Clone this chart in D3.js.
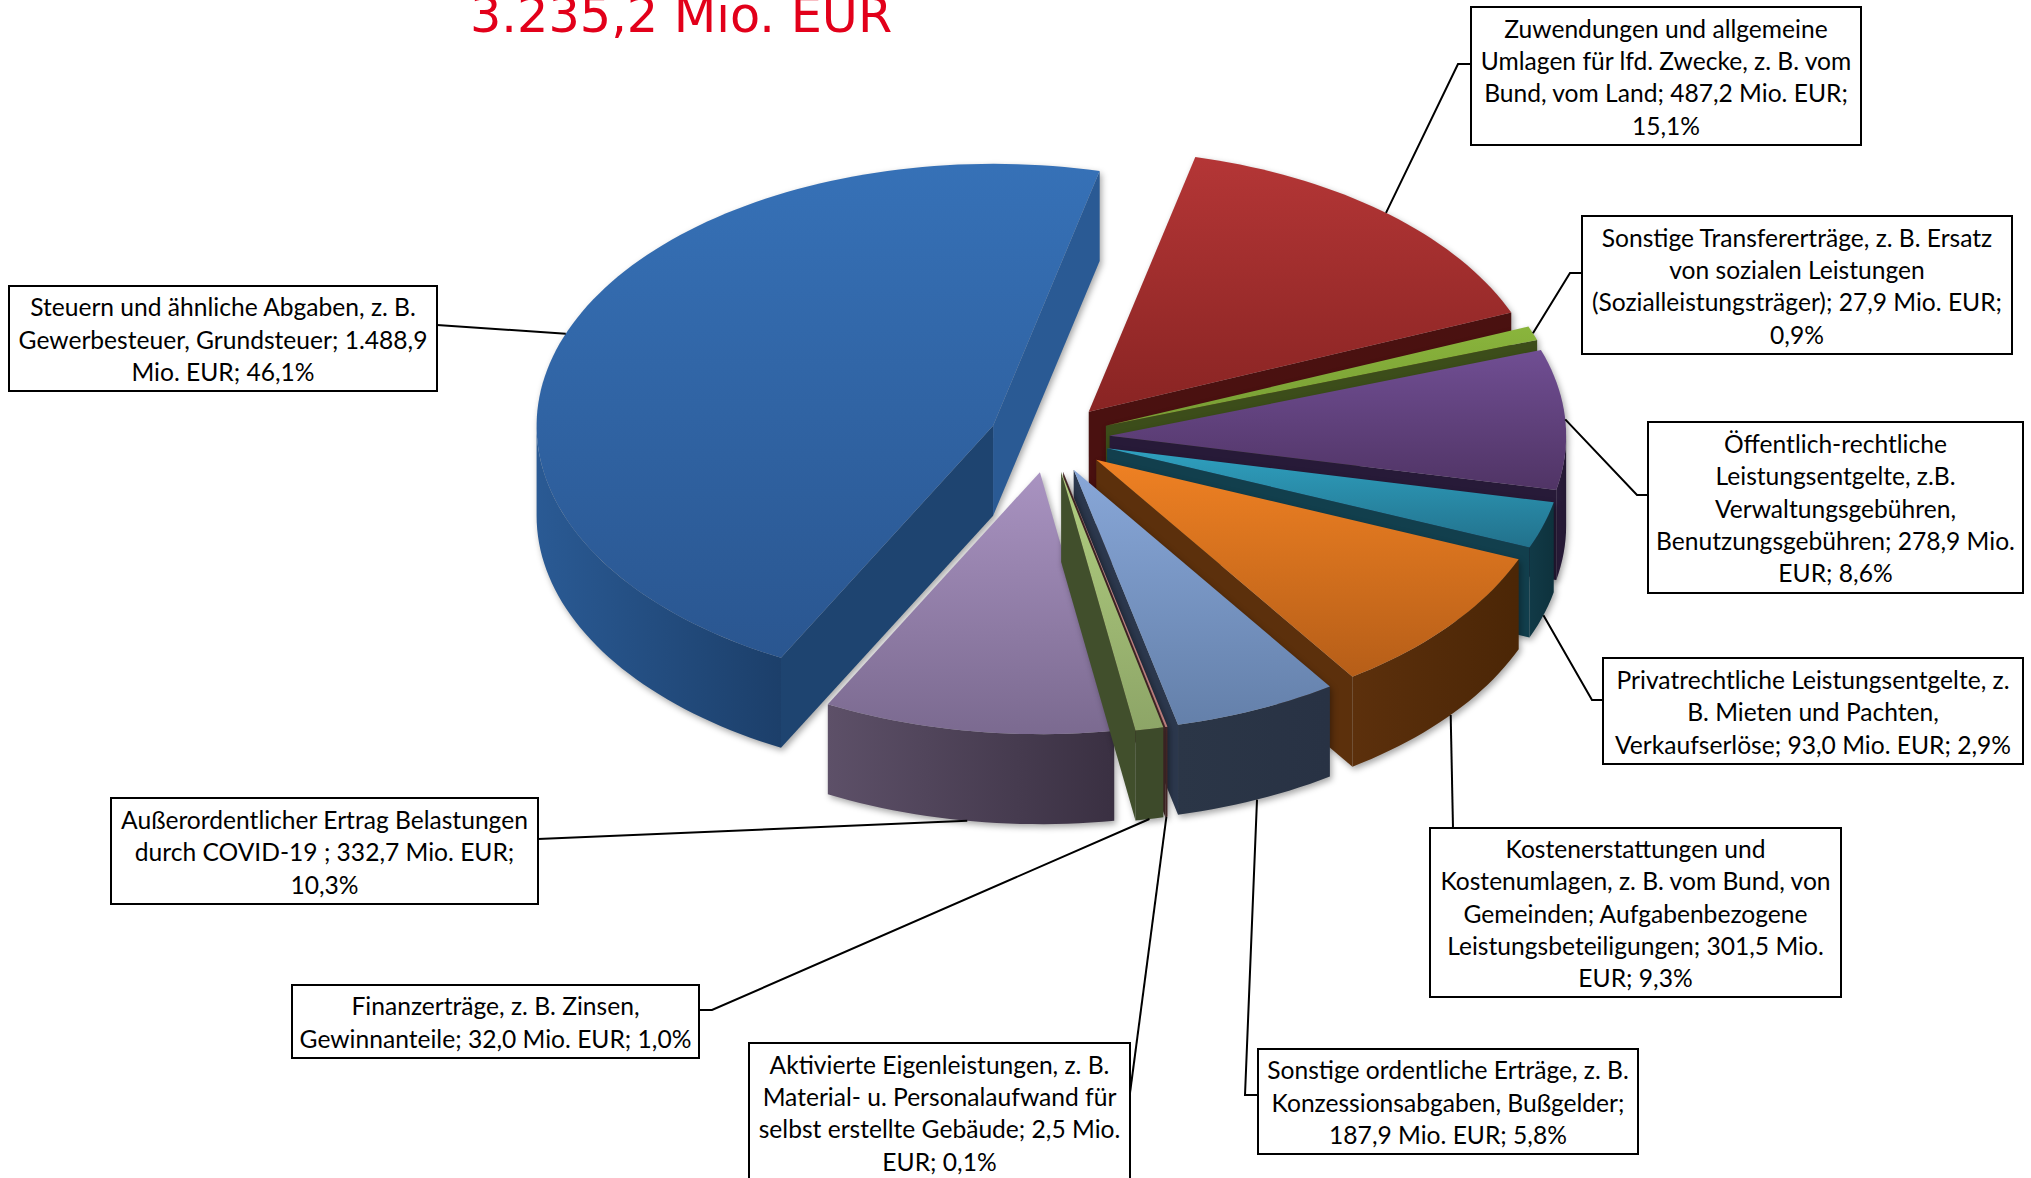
<!DOCTYPE html>
<html>
<head>
<meta charset="utf-8">
<script src="https://cdn.jsdelivr.net/npm/d3@7"></script>
<style>
    html, body { margin: 0; padding: 0; background: #ffffff; overflow: hidden; }
    text { font-family: Lato, "Open Sans", sans-serif; }
</style>
</head>
<body>
<div id="chart"></div>
<script>
'use strict';

// data, in the order the pie runs clockwise
const categories = [
    'Zuwendungen', 'Sonstige Transfererträge', 'Öffentlich-rechtliche Leistungsentgelte',
    'Privatrechtliche Leistungsentgelte', 'Kostenerstattungen', 'Sonstige ordentliche Erträge',
    'Aktivierte Eigenleistungen', 'Finanzerträge', 'Außerordentlicher Ertrag', 'Steuern'
];
const values = [487.2, 27.9, 278.9, 93.0, 301.5, 187.9, 2.5, 32.0, 332.7, 1488.9];
const titleText = '3.235,2 Mio. EUR';
const labelLines = [
    ['Zuwendungen und allgemeine', 'Umlagen für lfd. Zwecke, z. B. vom', 'Bund, vom Land; 487,2 Mio. EUR;', '15,1%'],
    ['Sonstige Transfererträge, z. B. Ersatz', 'von sozialen Leistungen', '(Sozialleistungsträger); 27,9 Mio. EUR;', '0,9%'],
    ['Öffentlich-rechtliche', 'Leistungsentgelte, z.B.', 'Verwaltungsgebühren,', 'Benutzungsgebühren; 278,9 Mio.', 'EUR; 8,6%'],
    ['Privatrechtliche Leistungsentgelte, z.', 'B. Mieten und Pachten,', 'Verkaufserlöse; 93,0 Mio. EUR; 2,9%'],
    ['Kostenerstattungen und', 'Kostenumlagen, z. B. vom Bund, von', 'Gemeinden; Aufgabenbezogene', 'Leistungsbeteiligungen; 301,5 Mio.', 'EUR; 9,3%'],
    ['Sonstige ordentliche Erträge, z. B.', 'Konzessionsabgaben, Bußgelder;', '187,9 Mio. EUR; 5,8%'],
    ['Aktivierte Eigenleistungen, z. B.', 'Material- u. Personalaufwand für', 'selbst erstellte Gebäude; 2,5 Mio.', 'EUR; 0,1%'],
    ['Finanzerträge, z. B. Zinsen,', 'Gewinnanteile; 32,0 Mio. EUR; 1,0%'],
    ['Außerordentlicher Ertrag Belastungen', 'durch COVID-19 ; 332,7 Mio. EUR;', '10,3%'],
    ['Steuern und ähnliche Abgaben, z. B.', 'Gewerbesteuer, Grundsteuer; 1.488,9', 'Mio. EUR; 46,1%']
];

// layout
const width = 2031, height = 1178;
const center = {x: 1049.5, y: 438};
const radiusX = 456.5, radiusY = 262, depth = 90, explode = 0.132;
const startDeg = 13.5;
const lineGap = 32.4;
const drawOrder = [9, 8, 0, 1, 2, 3, 4, 5, 6, 7];

// box: x0, y0, x1, y1; elbow: side of the box and where the leader leaves it
const boxes = [
    {x0: 1471, y0: 7, x1: 1861, y1: 145, from: [1471, 64], elbow: [1458, 64]},
    {x0: 1582, y0: 216, x1: 2012, y1: 354, from: [1582, 273], elbow: [1570, 273]},
    {x0: 1648, y0: 422, x1: 2023, y1: 593, from: [1648, 495], elbow: [1637, 495]},
    {x0: 1603, y0: 658, x1: 2023, y1: 764, from: [1603, 700], elbow: [1592, 700]},
    {x0: 1430, y0: 828, x1: 1841, y1: 997, from: [1453, 828], elbow: null},
    {x0: 1258, y0: 1049, x1: 1638, y1: 1154, from: [1258, 1095], elbow: [1245, 1095]},
    {x0: 749, y0: 1043, x1: 1130, y1: 1181, from: [1130, 1093], elbow: null},
    {x0: 292, y0: 985, x1: 699, y1: 1058, from: [699, 1010], elbow: [712, 1010]},
    {x0: 111, y0: 798, x1: 538, y1: 904, from: [538, 839], elbow: null},
    {x0: 9, y0: 286, x1: 437, y1: 391, from: [437, 325], elbow: null}
];

// colours per slice: top gradient, radial wall, curved wall gradient
const topColors = [
    ['#b43636', '#892423'], ['#8ab53c', '#779c34'], ['#704e93', '#503465'], ['#2fa1c0', '#22718c'],
    ['#ef8123', '#b65e18'], ['#88a7d8', '#6480aa'], ['#dd9a98', '#c98684'], ['#b1ce80', '#8da567'],
    ['#a993c1', '#7b6a90'], ['#3671b7', '#2a5690']
];
const endWallColors = ['#4a1110', '#3c4d1a', '#271a38', '#123f4d', '#5c300c', '#2c384d', '#4a2a2a', '#414f2c', '#4a3f55', '#2a5a94'];
const startWallColors = ['#4a1110', '#3c4d1a', '#271a38', '#123f4d', '#5c300c', '#2c384d', '#4a2a2a', '#414f2c', '#4a3f55', '#1e4470'];
const arcWallColors = [
    ['#5a1a18', '#4a1110'], ['#3c4d1a', '#3c4d1a'], ['#2a1c3c', '#241833'], ['#113a47', '#0e323d'],
    ['#5c300c', '#4b2606'], ['#2b3647', '#283244'], ['#4a2a2a', '#4a2a2a'], ['#3d4a2a', '#3d4a2a'],
    ['#5d5068', '#3a3042'], ['#2a5a94', '#1c3f6a']
];

const toRad = Math.PI / 180;
const halfPi = Math.PI / 2;

const pie = d3.pie().sort(null).startAngle(startDeg * toRad).endAngle((startDeg + 360) * toRad);
const arcs = pie(values);

// unit circle to screen, angles run clockwise from 12 o'clock
const xScale = d3.scaleLinear().domain([-1, 1]).range([center.x - radiusX, center.x + radiusX]);
const yScale = d3.scaleLinear().domain([-1, 1]).range([center.y - radiusY, center.y + radiusY]);

function apexOf(arc) {
    let mid = (arc.startAngle + arc.endAngle) / 2;
    return [explode * Math.sin(mid), -explode * Math.cos(mid)];
}

function project(arc, r, angle, drop) {
    let apex = apexOf(arc);
    return [
        xScale(apex[0] + r * Math.sin(angle)),
        yScale(apex[1] - r * Math.cos(angle)) + (drop || 0)
    ];
}

function arcPoints(arc, a0, a1, drop) {
    let steps = Math.max(2, Math.ceil((a1 - a0) / (toRad * 1.5)));
    return d3.range(steps + 1).map(function (i) {
        return project(arc, 1, a0 + (a1 - a0) * i / steps, drop);
    });
}

const line = d3.line();
const closed = function (pts) { return line(pts) + 'Z'; };

const svg = d3.select('#chart').append('svg')
    .attr('width', width)
    .attr('height', height)
    .style('display', 'block');

const defs = svg.append('defs');

arcs.forEach(function (arc, i) {
    let top = defs.append('linearGradient').attr('id', 'top-' + i)
        .attr('x1', 0).attr('y1', 0).attr('x2', 0).attr('y2', 1);
    top.append('stop').attr('offset', 0).attr('stop-color', topColors[i][0]);
    top.append('stop').attr('offset', 1).attr('stop-color', topColors[i][1]);

    let wall = defs.append('linearGradient').attr('id', 'wall-' + i)
        .attr('x1', 0).attr('y1', 0).attr('x2', 1).attr('y2', 0);
    wall.append('stop').attr('offset', 0).attr('stop-color', arcWallColors[i][0]);
    wall.append('stop').attr('offset', 1).attr('stop-color', arcWallColors[i][1]);
});

const pieLayer = svg.append('g');

drawOrder.forEach(function (i) {
    let arc = arcs[i];
    let slice = pieLayer.append('g')
        .attr('class', 'slice')
        .attr('data-name', categories[i])
        .style('filter', 'drop-shadow(2px 3px 3px rgba(0,0,0,0.35))');

    let a0 = arc.startAngle, a1 = arc.endAngle;
    let apexTop = project(arc, 0, 0, 0), apexBottom = project(arc, 0, 0, depth);

    // a radial wall shows only if its outward normal points at the viewer
    let normalStart = Math.cos(a0 - halfPi), normalEnd = Math.cos(a1 + halfPi);
    if (normalStart < 0) {
        slice.append('path')
            .attr('d', closed([apexTop, project(arc, 1, a0, 0), project(arc, 1, a0, depth), apexBottom]))
            .attr('fill', startWallColors[i]);
    }
    if (normalEnd < 0) {
        slice.append('path')
            .attr('d', closed([apexTop, project(arc, 1, a1, 0), project(arc, 1, a1, depth), apexBottom]))
            .attr('fill', endWallColors[i]);
    }

    // curved wall, front half only
    let w0 = Math.max(a0, halfPi), w1 = Math.min(a1, 3 * halfPi);
    if (w1 > w0) {
        let upper = arcPoints(arc, w0, w1, 0);
        let lower = arcPoints(arc, w0, w1, depth).reverse();
        slice.append('path')
            .attr('d', closed(upper.concat(lower)))
            .attr('fill', 'url(#wall-' + i + ')');
    }

    // top face
    slice.append('path')
        .attr('d', closed([apexTop].concat(arcPoints(arc, a0, a1, 0))))
        .attr('fill', 'url(#top-' + i + ')');
});

// leaders end on the rim at the middle of the slice
const leaderLayer = svg.append('g');
boxes.forEach(function (box, i) {
    let arc = arcs[i];
    let mid = (arc.startAngle + arc.endAngle) / 2;
    let facing = Math.cos(mid) < 0;
    let pts = [box.from];
    if (box.elbow) {
        pts.push(box.elbow);
    }
    pts.push(project(arc, 1, mid, facing ? depth : 0));
    leaderLayer.append('path')
        .attr('d', line(pts))
        .attr('fill', 'none')
        .attr('stroke', '#000000')
        .attr('stroke-width', 2);
});

const boxLayer = svg.selectAll('.label').data(boxes).enter().append('g').attr('class', 'label');

boxLayer.append('rect')
    .attr('x', function (b) { return b.x0; })
    .attr('y', function (b) { return b.y0; })
    .attr('width', function (b) { return b.x1 - b.x0; })
    .attr('height', function (b) { return b.y1 - b.y0; })
    .attr('fill', '#ffffff')
    .attr('stroke', '#000000')
    .attr('stroke-width', 2);

boxLayer.each(function (b, i) {
    let lines = labelLines[i];
    let middle = (b.y0 + b.y1) / 2;
    let first = middle - (lines.length - 1) * lineGap / 2;
    d3.select(this).selectAll('text').data(lines).enter().append('text')
        .attr('x', (b.x0 + b.x1) / 2)
        .attr('y', function (d, k) { return first + k * lineGap + 1.5; })
        .attr('dy', '0.35em')
        .attr('text-anchor', 'middle')
        .attr('font-size', 24.6)
        .attr('fill', '#000000')
        .text(function (d) { return d; });
});

svg.append('text')
    .attr('x', 470)
    .attr('y', 32)
    .attr('font-size', 49.3)
    .attr('fill', '#e2001a')
    .style('font-family', '"DejaVu Sans", sans-serif')
    .text(titleText);
</script>
</body>
</html>
